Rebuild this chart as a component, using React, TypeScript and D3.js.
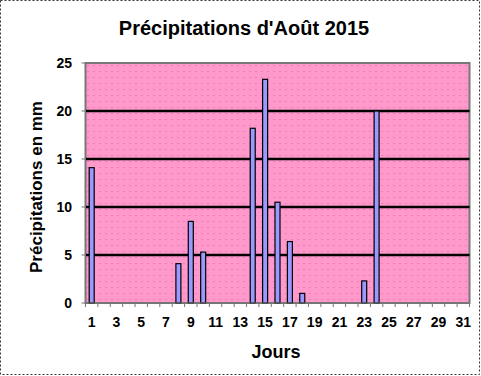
import React from "react";
import * as d3 from "d3";

const days: number[] = d3.range(1, 32);
const rainDays: number[] = [1, 8, 9, 10, 14, 15, 16, 17, 18, 23, 24];
const rainValues: number[] = [14.1, 4.1, 8.5, 5.3, 18.2, 23.3, 10.5, 6.4, 1.0, 2.3, 20.0];
const yTicks: number[] = [0, 5, 10, 15, 20, 25];
const xTickLabels: number[] = [1, 3, 5, 7, 9, 11, 13, 15, 17, 19, 21, 23, 25, 27, 29, 31];
const title = "Précipitations d'Août 2015";
const yTitle = "Précipitations en mm";
const xTitle = "Jours";

const W = 481;
const H = 376;
const plot = { left: 85.5, right: 469.5, top: 63, bottom: 303 };
const font = "'Liberation Sans', Arial, sans-serif";

export default function App() {
  const x = d3.scaleBand<number>().domain(days).range([plot.left, plot.right]).paddingInner(0).paddingOuter(0);
  const y = d3.scaleLinear().domain([0, 25]).range([plot.bottom, plot.top]);
  const bw = 5;
  const data = rainDays.map((d, i) => ({ day: d, v: rainValues[i] }));
  return (
    <svg width={W} height={H} style={{ position: "absolute", left: 0, top: 0, background: "#fff" }}>
      <defs>
        <pattern id="dots" width="6" height="6" patternUnits="userSpaceOnUse" x={plot.left} y={plot.top}>
          <rect width="6" height="6" fill="#FF99CC" />
          <rect x="2" y="2" width="1" height="1" fill="#E0609A" />
        </pattern>
      </defs>
      <rect x={0.5} y={0.5} width={W - 2} height={H - 2} fill="#fff" stroke="#333" strokeDasharray="2,2" strokeWidth={1} />
      <text x={244} y={35} textAnchor="middle" fontFamily={font} fontWeight="bold" fontSize={20} fill="#000">{title}</text>
      <rect x={plot.left} y={plot.top} width={plot.right - plot.left} height={plot.bottom - plot.top} fill="url(#dots)" stroke="#777" strokeWidth={2} />
      {yTicks.filter(t => t > 0 && t < 25).map(t => (
        <line key={t} x1={plot.left} x2={plot.right} y1={y(t)} y2={y(t)} stroke="#000" strokeWidth={2.5} />
      ))}
      {data.map(d => (
        <rect key={d.day} x={(x(d.day) as number) + x.bandwidth() / 2 - bw / 2} y={y(d.v)} width={bw} height={y(0) - y(d.v)} fill="#9999FF" stroke="#000" strokeWidth={1.2} />
      ))}
      <line x1={plot.left} x2={plot.right} y1={plot.bottom} y2={plot.bottom} stroke="#777" strokeWidth={1} />
      <line x1={plot.left} x2={plot.left} y1={plot.top} y2={plot.bottom} stroke="#777" strokeWidth={1} />
      {yTicks.map(t => (
        <g key={t}>
          <line x1={plot.left - 4} x2={plot.left} y1={y(t)} y2={y(t)} stroke="#777" />
          <text x={72} y={y(t) + 5} textAnchor="end" fontFamily={font} fontWeight="bold" fontSize={14} fill="#000">{t}</text>
        </g>
      ))}
      {days.concat([32]).map(d => {
        const xx = d === 32 ? plot.right : (x(d) as number);
        return <line key={d} x1={xx} x2={xx} y1={plot.bottom} y2={plot.bottom + 4} stroke="#777" />;
      })}
      {xTickLabels.map(d => (
        <text key={d} x={(x(d) as number) + x.bandwidth() / 2} y={327} textAnchor="middle" fontFamily={font} fontWeight="bold" fontSize={14} fill="#000">{d}</text>
      ))}
      <text x={276} y={358} textAnchor="middle" fontFamily={font} fontWeight="bold" fontSize={18} fill="#000">{xTitle}</text>
      <text transform={`translate(42,187) rotate(-90)`} textAnchor="middle" fontFamily={font} fontWeight="bold" fontSize={17} fill="#000">{yTitle}</text>
    </svg>
  );
}
